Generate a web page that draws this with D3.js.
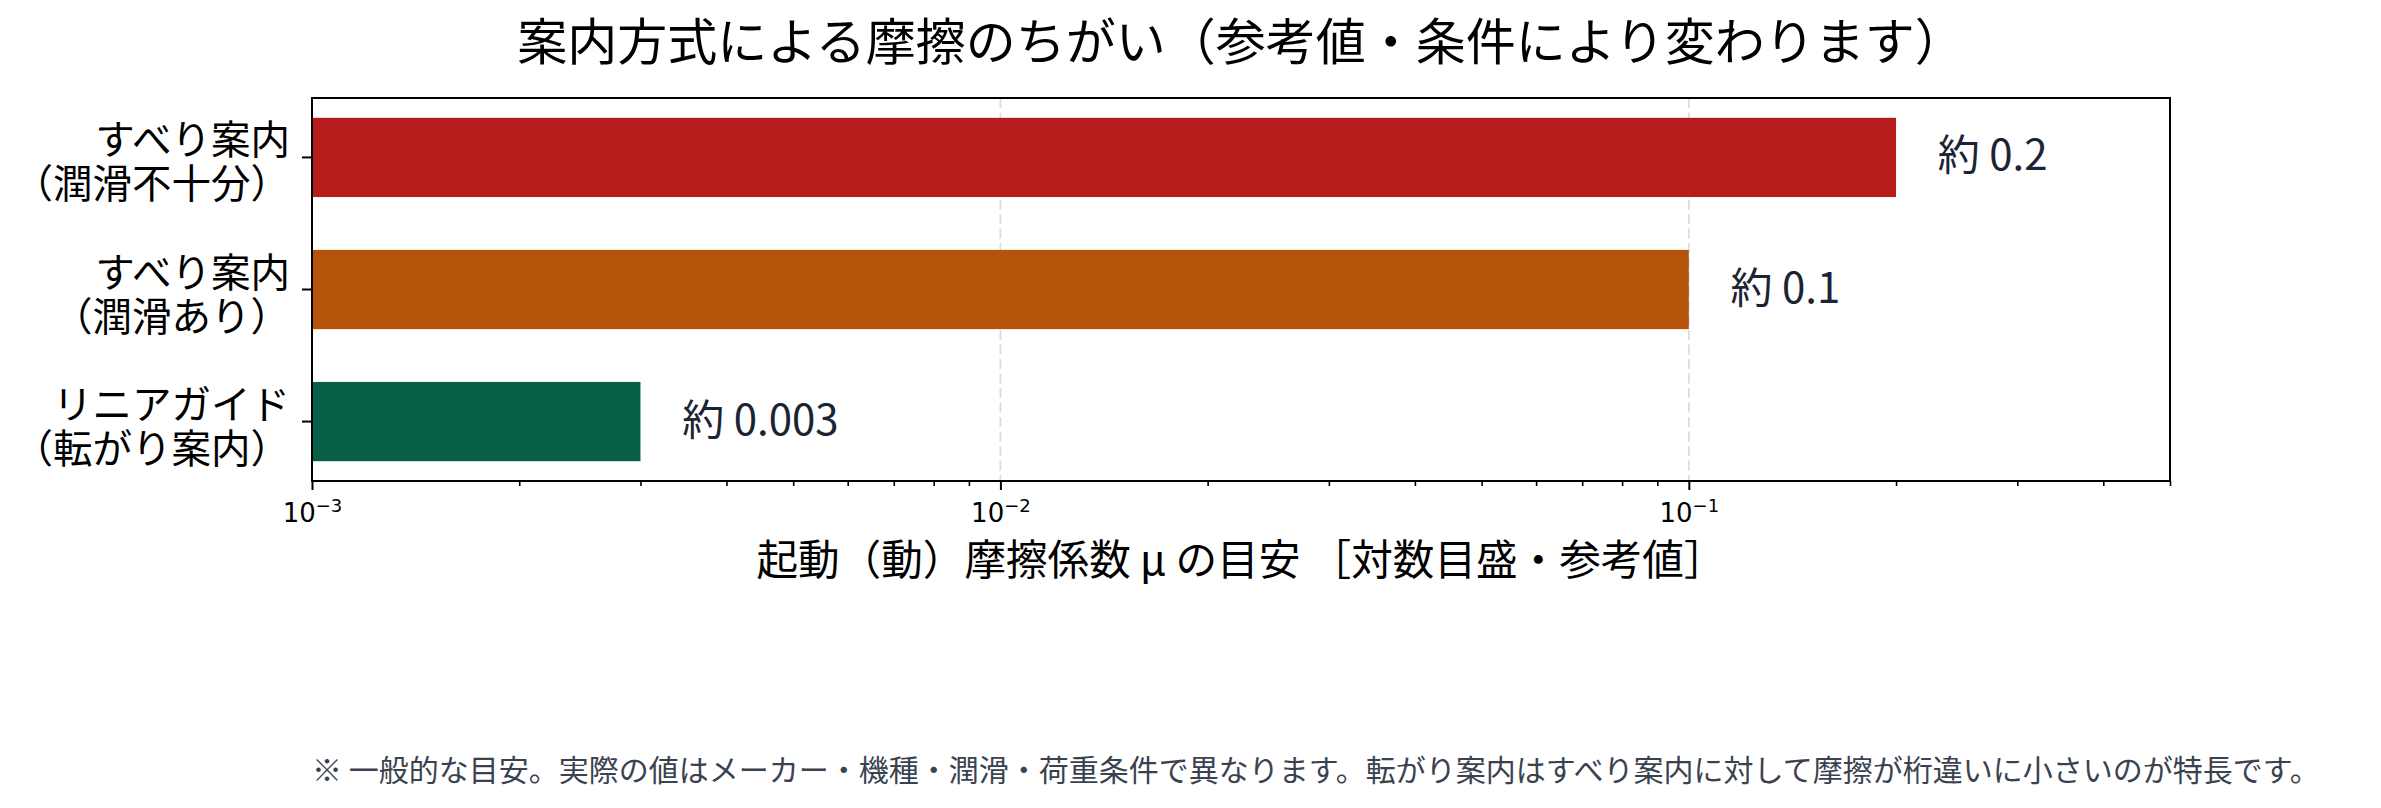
<!DOCTYPE html>
<html lang="ja">
<head>
<meta charset="utf-8">
<script src="https://cdn.jsdelivr.net/npm/d3@7"></script>
<style>
  html, body { margin: 0; padding: 0; background: #ffffff; }
  svg { display: block; }
</style>
</head>
<body>
<svg id="chart" width="2381" height="808"></svg>
<script>
// ---- data ----
const categoryLine1 = ["すべり案内", "すべり案内", "リニアガイド"];
const categoryLine2 = ["（潤滑不十分）", "（潤滑あり）", "（転がり案内）"];
const frictionValues = [0.2, 0.1, 0.003];
const valueLabels = ["約 0.2", "約 0.1", "約 0.003"];
const barColors = ["#b71c1c", "#b45309", "#065f46"];
const majorTickValues = [0.001, 0.01, 0.1];
const majorTickExponents = ["−3", "−2", "−1"];
const titleText = "案内方式による摩擦のちがい（参考値・条件により変わります）";
const xLabelText = "起動（動）摩擦係数 μ の目安 ［対数目盛・参考値］";
const footnoteText = "※ 一般的な目安。実際の値はメーカー・機種・潤滑・荷重条件で異なります。転がり案内はすべり案内に対して摩擦が桁違いに小さいのが特長です。";

// ---- layout ----
const plot = { left: 312, right: 2170, top: 98, bottom: 481 };
const jp = "'Noto Sans CJK JP', 'Noto Sans', sans-serif";

const svg = d3.select("#chart");
svg.append("rect").attr("width", 2381).attr("height", 808).attr("fill", "#ffffff");

const x = d3.scaleLog().domain([0.001, 0.5]).range([plot.left, plot.right]);
const y = d3.scaleBand()
  .domain(d3.range(categoryLine1.length))
  .range([plot.top, plot.bottom])
  .paddingInner(0.4)
  .paddingOuter(0.15);

// minor ticks
const minorTicks = [];
[0.001, 0.01, 0.1].forEach(dec => {
  for (let k = 2; k <= 9; k++) {
    const v = dec * k;
    if (v <= 0.5 + 1e-12) minorTicks.push(v);
  }
});

// grid lines (dashed) at major ticks
svg.append("g").selectAll("line")
  .data(majorTickValues.filter(v => v > 0.001))
  .join("line")
  .attr("x1", d => x(d)).attr("x2", d => x(d))
  .attr("y1", plot.top).attr("y2", plot.bottom)
  .attr("stroke", "#dcdcdc")
  .attr("stroke-width", 1.8)
  .attr("stroke-dasharray", "10,4.5");

// bars
svg.append("g").selectAll("rect")
  .data(frictionValues)
  .join("rect")
  .attr("x", x.range()[0])
  .attr("y", (d, i) => y(i))
  .attr("width", d => x(d) - x.range()[0])
  .attr("height", y.bandwidth())
  .attr("fill", (d, i) => barColors[i]);

// value labels
svg.append("g").selectAll("text")
  .data(frictionValues)
  .join("text")
  .attr("x", d => x(d * 1.15))
  .attr("y", (d, i) => y(i) + y.bandwidth() / 2 + 13)
  .attr("font-family", jp)
  .attr("font-size", 42)
  .attr("fill", "#1c2433")
  .text((d, i) => valueLabels[i]);

// x axis: major ticks
const xAxisG = svg.append("g").attr("transform", `translate(0,${plot.bottom})`);
xAxisG.call(
  d3.axisBottom(x).tickValues(majorTickValues).tickSize(9).tickSizeOuter(0).tickFormat(() => "")
);
xAxisG.select(".domain").remove();
xAxisG.selectAll(".tick line").attr("stroke", "#000").attr("stroke-width", 2);
xAxisG.selectAll(".tick text").remove();
xAxisG.selectAll(".tick").each(function(d, i) {
  const t = d3.select(this).append("text")
    .attr("x", 0).attr("y", 41).attr("dy", 0)
    .attr("text-anchor", "middle")
    .attr("font-family", "'DejaVu Sans', sans-serif")
    .attr("font-size", 26)
    .attr("fill", "#000");
  t.append("tspan").text("10");
  t.append("tspan").attr("font-size", 18).attr("dy", -10).text(majorTickExponents[i]);
});

// x axis: minor ticks
const xMinorG = svg.append("g").attr("transform", `translate(0,${plot.bottom})`);
xMinorG.call(d3.axisBottom(x).tickValues(minorTicks).tickSize(5).tickSizeOuter(0).tickFormat(() => ""));
xMinorG.select(".domain").remove();
xMinorG.selectAll(".tick line").attr("stroke", "#000").attr("stroke-width", 1.6);

// y axis
const yAxisG = svg.append("g").attr("transform", `translate(${plot.left},0)`);
yAxisG.call(d3.axisLeft(y).tickSize(10).tickSizeOuter(0).tickFormat(() => ""));
yAxisG.select(".domain").remove();
yAxisG.selectAll(".tick line").attr("stroke", "#000").attr("stroke-width", 2);
yAxisG.selectAll(".tick text").remove();
yAxisG.selectAll(".tick").each(function(d, i) {
  const t = d3.select(this).append("text")
    .attr("text-anchor", "end")
    .attr("font-family", jp)
    .attr("font-size", 39.5)
    .attr("fill", "#000");
  t.append("tspan").attr("x", -22).attr("y", -3).text(categoryLine1[i]);
  t.append("tspan").attr("x", -22).attr("y", 41).text(categoryLine2[i]);
});

// frame (spines)
svg.append("rect")
  .attr("x", plot.left).attr("y", plot.top)
  .attr("width", plot.right - plot.left).attr("height", plot.bottom - plot.top)
  .attr("fill", "none").attr("stroke", "#000").attr("stroke-width", 2);

// title
svg.append("text")
  .attr("x", (plot.left + plot.right) / 2).attr("y", 60)
  .attr("text-anchor", "middle")
  .attr("font-family", jp).attr("font-size", 50).attr("fill", "#000")
  .text(titleText);

// x label
svg.append("text")
  .attr("x", (plot.left + plot.right) / 2).attr("y", 575)
  .attr("text-anchor", "middle")
  .attr("font-family", jp).attr("font-size", 41.6).attr("fill", "#000")
  .text(xLabelText);

// footnote
svg.append("text")
  .attr("x", plot.left).attr("y", 781)
  .attr("text-anchor", "start")
  .attr("font-family", jp).attr("font-size", 30).attr("fill", "#3a4250")
  .text(footnoteText);
</script>
</body>
</html>
